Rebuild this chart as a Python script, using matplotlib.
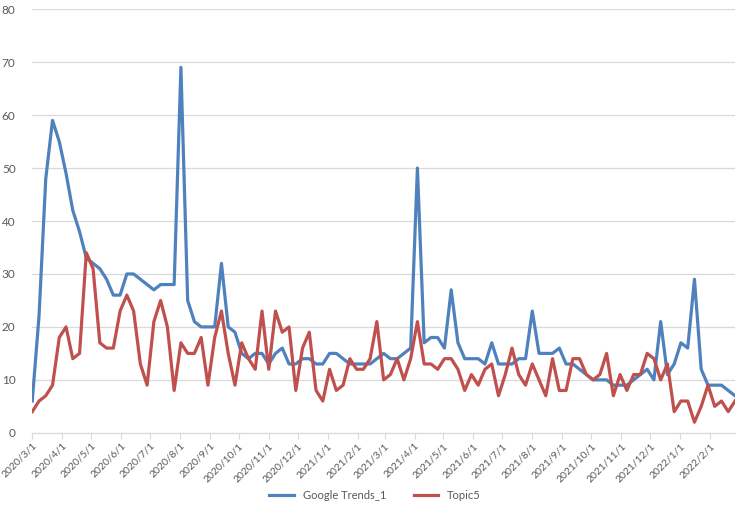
import matplotlib
matplotlib.use("Agg")
import matplotlib.pyplot as plt
import matplotlib.dates as mdates
import pandas as pd

# weekly series starting 2020/3/1
start_date = "2020-03-01"
google_trends = [6, 22, 48, 59, 55, 49, 42, 38, 33, 32, 31, 29, 26, 26, 30, 30, 29, 28, 27, 28,
                 28, 28, 69, 25, 21, 20, 20, 20, 32, 20, 19, 15, 14, 15, 15, 13, 15, 16, 13, 13,
                 14, 14, 13, 13, 15, 15, 14, 13, 13, 13, 13, 14, 15, 14, 14, 15, 16, 50, 17, 18,
                 18, 16, 27, 17, 14, 14, 14, 13, 17, 13, 13, 13, 14, 14, 23, 15, 15, 15, 16, 13,
                 13, 12, 11, 10, 10, 10, 9, 9, 9, 10, 11, 12, 10, 21, 11, 13, 17, 16, 29, 12,
                 9, 9, 9, 8, 7]
topic5 = [4, 6, 7, 9, 18, 20, 14, 15, 34, 31, 17, 16, 16, 23, 26, 23, 13, 9, 21, 25,
          20, 8, 17, 15, 15, 18, 9, 18, 23, 15, 9, 17, 14, 12, 23, 12, 23, 19, 20, 8,
          16, 19, 8, 6, 12, 8, 9, 14, 12, 12, 14, 21, 10, 11, 14, 10, 14, 21, 13, 13,
          12, 14, 14, 12, 8, 11, 9, 12, 13, 7, 11, 16, 11, 9, 13, 10, 7, 14, 8, 8,
          14, 14, 11, 10, 11, 15, 7, 11, 8, 11, 11, 15, 14, 10, 13, 4, 6, 6, 2, 5,
          9, 5, 6, 4, 6]
series_names = ["Google Trends_1", "Topic5"]

dates = pd.date_range(start_date, periods=len(google_trends), freq="7D")

plt.rcParams["font.family"] = ["Lato", "DejaVu Sans"]
fig = plt.figure(figsize=(7.5, 5.11), dpi=100)
ax = fig.add_axes([0.043, 0.153, 0.937, 0.829])

ax.plot(dates, google_trends, color="#4F81BD", linewidth=2.3, label=series_names[0])
ax.plot(dates, topic5, color="#C0504D", linewidth=2.3, label=series_names[1])

ax.set_ylim(0, 80)
ax.set_yticks(range(0, 81, 10))
ax.set_xlim(dates[0], dates[-1])
ax.xaxis.set_major_locator(mdates.MonthLocator())
ax.xaxis.set_major_formatter(mdates.DateFormatter("%Y/%-m/%-d"))
ax.grid(axis="y", color="#d9d9d9", linewidth=0.9)
ax.set_axisbelow(True)

for side in ["top", "right", "left"]:
    ax.spines[side].set_visible(False)
ax.spines["bottom"].set_color("#d9d9d9")
ax.tick_params(axis="y", length=0, pad=12, labelsize=8.5, labelcolor="#595959")
ax.tick_params(axis="x", length=4, pad=2, color="#d9d9d9", labelsize=7.5, labelcolor="#595959")
plt.setp(ax.get_xticklabels(), rotation=45, ha="right", rotation_mode="anchor")

fig.legend(loc="center", bbox_to_anchor=(0.5, 0.03), ncol=2, frameon=False,
           fontsize=8, labelcolor="#595959", handlelength=2.2, columnspacing=2.5)

fig.savefig("out.png", dpi=100)
